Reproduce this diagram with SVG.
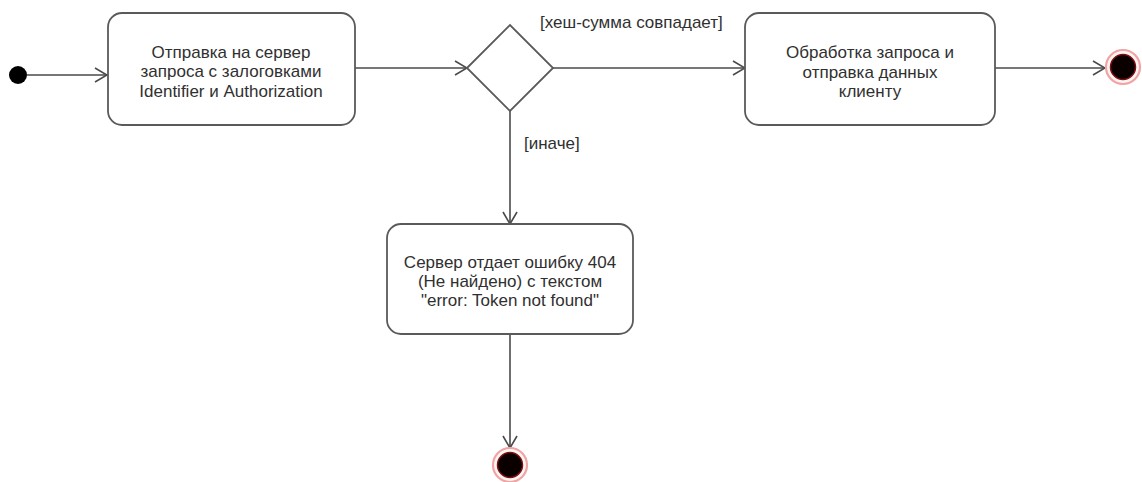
<svg xmlns="http://www.w3.org/2000/svg" width="1142" height="482" viewBox="0 0 1142 482">
<defs>
<marker id="arr" markerUnits="userSpaceOnUse" markerWidth="14" markerHeight="16" viewBox="0 0 14 16" refX="13" refY="8" orient="auto">
<path d="M1,1 L13,8 L1,15" fill="none" stroke="#4a4a4a" stroke-width="1.6"/>
</marker>
<style>
.box{fill:#ffffff;stroke:#5a5a5a;stroke-width:1.8}
.edge{fill:none;stroke:#4a4a4a;stroke-width:1.6;marker-end:url(#arr)}
.t{font-family:"Liberation Sans",Arial,sans-serif;font-size:17px;fill:#303030;text-anchor:middle}
.lbl{font-family:"Liberation Sans",Arial,sans-serif;font-size:17px;fill:#303030}
.endo{fill:#fff4f4;stroke:#f0a4a4;stroke-width:2.2}
.endi{fill:#0a0000;stroke:#7a1010;stroke-width:1.5}
</style>
</defs>
<rect width="1142" height="482" fill="#ffffff"/>
<g id="connectors">
<path class="edge" d="M27,75 H107"/>
<path class="edge" d="M355,68 H467"/>
<path class="edge" d="M553,68 H745"/>
<path class="edge" d="M995,68 H1105"/>
<path class="edge" d="M510,111 V224"/>
<path class="edge" d="M510,334 V448"/>
<text class="lbl" x="540" y="28">[хеш-сумма совпадает]</text>
<text class="lbl" x="524" y="149">[иначе]</text>
</g>
<g id="start">
<circle cx="18" cy="75" r="9" fill="#000000"/>
</g>
<g id="send-request">
<rect class="box" x="108" y="13" width="247" height="112" rx="14"/>
<text class="t" x="231" y="57.5">Отправка на сервер</text>
<text class="t" x="231" y="77">запроса с залоговками</text>
<text class="t" x="231" y="96.5">Identifier и Authorization</text>
</g>
<g id="decision">
<polygon points="467,68 510,25 553,68 510,111" fill="#ffffff" stroke="#5a5a5a" stroke-width="1.8"/>
</g>
<g id="process-request">
<rect class="box" x="745" y="13" width="250" height="112" rx="14"/>
<text class="t" x="870" y="58">Обработка запроса и</text>
<text class="t" x="870" y="77.5">отправка данных</text>
<text class="t" x="870" y="97">клиенту</text>
</g>
<g id="end-ok">
<circle class="endo" cx="1123" cy="67" r="17"/>
<circle class="endi" cx="1123" cy="67" r="12.5"/>
</g>
<g id="error-404">
<rect class="box" x="387" y="224" width="246" height="110" rx="14"/>
<text class="t" x="510" y="268">Сервер отдает ошибку 404</text>
<text class="t" x="510" y="287">(Не найдено) с текстом</text>
<text class="t" x="510" y="306">"error: Token not found"</text>
</g>
<g id="end-error">
<circle class="endo" cx="510" cy="465" r="17"/>
<circle class="endi" cx="510" cy="465" r="12.5"/>
</g>
</svg>
